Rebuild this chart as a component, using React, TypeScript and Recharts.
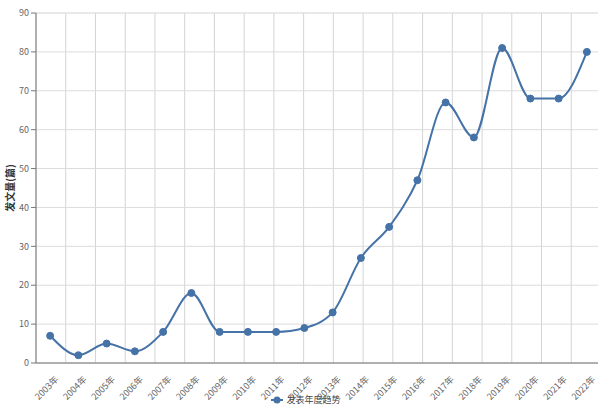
import React from 'react';
import { LineChart, Line, XAxis, YAxis, CartesianGrid, Legend } from 'recharts';

const years = ['2003年','2004年','2005年','2006年','2007年','2008年','2009年','2010年','2011年','2012年','2013年','2014年','2015年','2016年','2017年','2018年','2019年','2020年','2021年','2022年'];
const counts = [7, 2, 5, 3, 8, 18, 8, 8, 8, 9, 13, 27, 35, 47, 67, 58, 81, 68, 68, 80];
const majorTicks = [0, 10, 20, 30, 40, 50, 60, 70, 80, 90];
const minorTicks = [0, 2, 4, 6, 8, 10, 12, 14, 16, 18, 20, 22, 24, 26, 28, 30, 32, 34, 36, 38, 40, 42, 44, 46, 48, 50, 52, 54, 56, 58, 60, 62, 64, 66, 68, 70, 72, 74, 76, 78, 80, 82, 84, 86, 88, 90];
const boundaryTicks = [0, 1, 2, 3, 4, 5, 6, 7, 8, 9, 10, 11, 12, 13, 14, 15, 16, 17, 18, 19, 20];
const seriesName = '发表年度趋势';
const yLabel = '发文量(篇)';

const data = years.map((y, i) => ({ year: y, value: counts[i] }));

const FONT = '"Microsoft YaHei", "Noto Sans CJK SC", sans-serif';
const COLOR = '#4572A7';

const XTick = (props: any) => {
  const { x, y, payload } = props;
  const ax = x + 9;
  const ay = y + 9;
  return (
    <g>
      <text
        x={ax}
        y={ay}
        transform={`rotate(-45, ${ax}, ${ay})`}
        textAnchor="end"
        fontSize={9}
        fill="#666"
        fontFamily={FONT}
      >
        {payload.value}
      </text>
    </g>
  );
};

const GridTick = (props: any) => {
  const { x, y } = props;
  return <line x1={x} x2={x} y1={y - 8} y2={y - 3} stroke="#777" strokeWidth={1} />;
};

const LegendContent = () => (
  <div style={{ display: 'flex', justifyContent: 'center', alignItems: 'center', height: 13, marginTop: 0, lineHeight: '13px', fontFamily: FONT, fontSize: 9, color: '#444', paddingLeft: 14 }}>
    <svg width={12} height={10} style={{ marginRight: 3 }}>
      <line x1={0} x2={12} y1={5} y2={5} stroke={COLOR} strokeWidth={2} />
      <circle cx={6} cy={5} r={3.5} fill={COLOR} />
    </svg>
    <span>{seriesName}</span>
  </div>
);

export default function App() {
  return (
    <div style={{ position: 'fixed', left: 0, top: 0, width: 598, height: 406, overflow: 'hidden', background: '#fff' }}>
      <LineChart width={601} height={406} data={data} margin={{ top: 13, right: 0, left: 0, bottom: 0 }}>
        <YAxis yAxisId="minor" type="number" domain={[0, 90]} ticks={minorTicks} hide />
        <CartesianGrid xAxisId="grid" yAxisId="minor" vertical={false} stroke="#ececec" strokeWidth={1} />
        <CartesianGrid xAxisId="grid" yAxisId="main" horizontal={false} stroke="#d4d4d4" strokeWidth={1} />
        <CartesianGrid xAxisId="grid" yAxisId="main" vertical={false} stroke="#dcdcdc" strokeWidth={1} />
        <XAxis
          dataKey="year"
          type="category"
          scale="band"
          height={30}
          interval={0}
          tickLine={false}
          axisLine={{ stroke: '#777', strokeWidth: 1 }}
          tick={<XTick />}
        />
        <XAxis
          xAxisId="grid"
          type="number"
          domain={[0, 20]}
          ticks={boundaryTicks}
          interval={0}
          height={0}
          axisLine={false}
          tickLine={false}
          tick={<GridTick />}
        />
        <YAxis
          yAxisId="main"
          type="number"
          domain={[0, 90]}
          ticks={majorTicks}
          width={36}
          tickSize={5}
          tickMargin={2}
          axisLine={{ stroke: '#777', strokeWidth: 1 }}
          tickLine={{ stroke: '#777' }}
          tick={{ fontSize: 9, fill: '#666', fontFamily: FONT }}
          label={{ value: yLabel, angle: -90, position: 'insideLeft', offset: 10, style: { fontSize: 10, fill: '#333', fontWeight: 'bold', fontFamily: FONT, textAnchor: 'middle' } }}
        />
        <Legend verticalAlign="bottom" height={13} content={<LegendContent />} wrapperStyle={{ left: 0, width: 598 }} />
        <Line
          yAxisId="main"
          type="monotone"
          dataKey="value"
          name={seriesName}
          stroke={COLOR}
          strokeWidth={2}
          dot={{ r: 3.5, fill: COLOR, stroke: COLOR, strokeWidth: 1 }}
          activeDot={false}
          isAnimationActive={false}
        />
      </LineChart>
    </div>
  );
}
